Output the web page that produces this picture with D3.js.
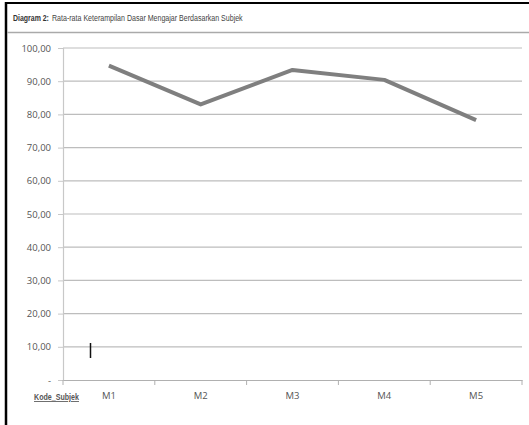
<!DOCTYPE html>
<html><head><meta charset="utf-8">
<script src="https://cdn.jsdelivr.net/npm/d3@7"></script>
<style>body{margin:0;background:#fff}svg{display:block}</style>
</head><body>
<svg id="c" width="529" height="425"></svg>
<script>
const categories = ["M1","M2","M3","M4","M5"];
const values = [94.7, 83.0, 93.4, 90.4, 78.3];
const yTicks = [0,10,20,30,40,50,60,70,80,90,100];
const titleLead = "Diagram 2:";
const titleRest = "Rata-rata Keterampilan Dasar Mengajar Berdasarkan Subjek";
const xAxisTitle = "Kode_Subjek";

const svg = d3.select("#c");
const pL = 63, pR = 522, pT = 48, pB = 380;

// condensed text helper: fits text into a given width by horizontal scaling
function condensed(str, x0, y0, w, size, weight, fill) {
  const el = svg.append("text").attr("x",0).attr("y",0)
    .attr("font-family","Liberation Sans, Arial, sans-serif")
    .attr("font-size",size).attr("font-weight",weight).attr("fill",fill).text(str);
  const nat = el.node().getComputedTextLength();
  el.attr("transform",`translate(${x0},${y0}) scale(${w/nat},1)`);
  return el;
}

// frame
svg.append("rect").attr("x",0).attr("y",0).attr("width",529).attr("height",425).attr("fill","#fff");
svg.append("line").attr("x1",6).attr("x2",6).attr("y1",2).attr("y2",425).attr("stroke","#000").attr("stroke-width",2.5);
svg.append("line").attr("x1",5).attr("x2",529).attr("y1",3).attr("y2",3).attr("stroke","#000").attr("stroke-width",2);
svg.append("line").attr("x1",7).attr("x2",529).attr("y1",32.5).attr("y2",32.5).attr("stroke","#aaa").attr("stroke-width",1.5);

// title
condensed(titleLead, 13, 21, 36, 9, "bold", "#333");
condensed(titleRest, 52, 21, 191, 9, "normal", "#444");

const x = d3.scaleBand().domain(categories).range([pL,pR]);
const y = d3.scaleLinear().domain([0,100]).range([pB,pT]);

// gridlines
svg.append("g").selectAll("line").data(yTicks.filter(d=>d>0)).join("line")
  .attr("x1",pL).attr("x2",pR).attr("y1",d=>y(d)).attr("y2",d=>y(d))
  .attr("stroke","#bdbdbd").attr("stroke-width",1.2);

// y axis
const yAxis = d3.axisLeft(y).tickValues(yTicks).tickSize(5).tickPadding(7)
  .tickFormat(d => d===0 ? "-" : d3.format(".2f")(d).replace(".",","));
const ya = svg.append("g").attr("transform",`translate(${pL},0)`).call(yAxis);
ya.select(".domain").attr("stroke","#c8c8c8").attr("stroke-width",1.2);
ya.selectAll(".tick line").attr("stroke","#c8c8c8");
ya.selectAll("text").attr("font-family","Open Sans, DejaVu Sans, sans-serif").attr("font-size",9.5).attr("fill","#555");

// x axis
const xAxis = d3.axisBottom(x).tickSize(0).tickPadding(12);
const xa = svg.append("g").attr("transform",`translate(0,${pB})`).call(xAxis);
xa.select(".domain").attr("stroke","#b0b0b0").attr("stroke-width",1.2);
xa.selectAll("text").attr("font-family","Open Sans, DejaVu Sans, sans-serif").attr("font-size",9.5).attr("fill","#555");
const bounds = categories.map(c=>x(c)).concat([pR]);
svg.append("g").selectAll("line").data(bounds).join("line")
  .attr("x1",d=>d).attr("x2",d=>d).attr("y1",pB).attr("y2",pB+5)
  .attr("stroke","#b0b0b0").attr("stroke-width",1);

// x axis title
condensed(xAxisTitle, 34, 400, 45, 8.5, "bold", "#555").attr("text-decoration","underline");

// stray cursor mark
svg.append("line").attr("x1",90.5).attr("x2",90.5).attr("y1",343).attr("y2",358).attr("stroke","#111").attr("stroke-width",1.5);

// line
const line = d3.line().x((d,i)=>x(categories[i])+x.bandwidth()/2).y(d=>y(d));
svg.append("path").datum(values).attr("d",line).attr("fill","none")
  .attr("stroke","#7f7f7f").attr("stroke-width",4).attr("stroke-linejoin","round");
</script>
</body></html>
